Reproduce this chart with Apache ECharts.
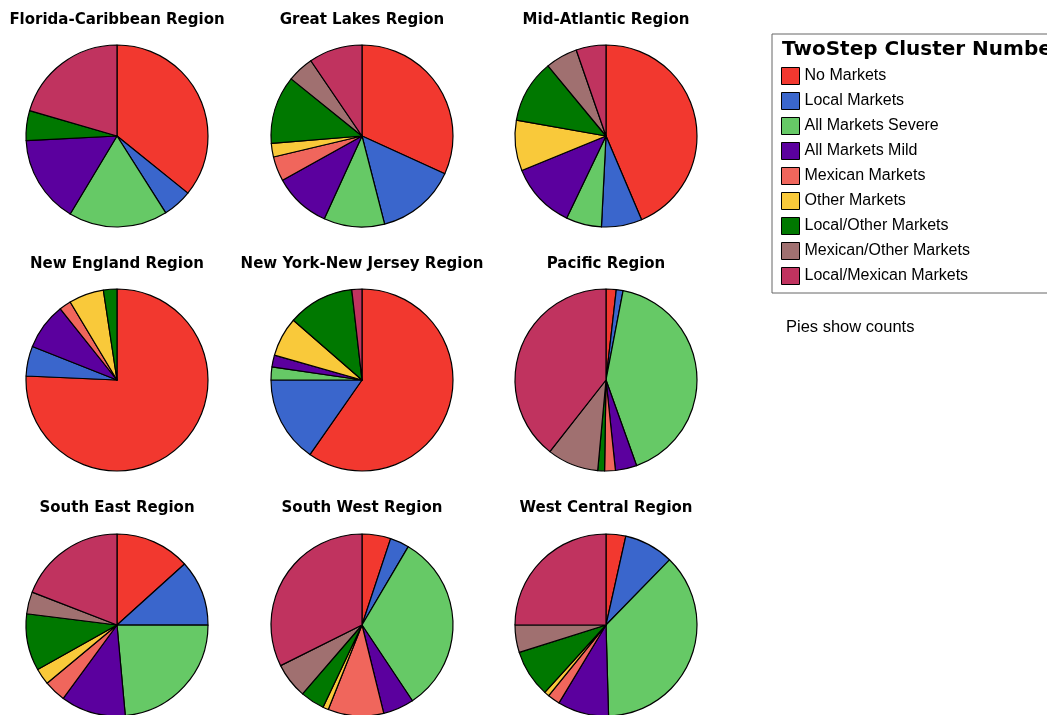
<!DOCTYPE html>
<html>
<head>
<meta charset="utf-8">
<script src="https://cdn.jsdelivr.net/npm/echarts@6/dist/echarts.min.js"></script>
<style>
html,body{margin:0;padding:0;background:#fff;}
#chart{width:1047px;height:715px;}
</style>
</head>
<body>
<div id="chart"></div>
<script>
// Cluster categories (legend order)
const categories = ["No Markets","Local Markets","All Markets Severe","All Markets Mild","Mexican Markets","Other Markets","Local/Other Markets","Mexican/Other Markets","Local/Mexican Markets"];
const colors = ["#F2382F","#3A66CC","#66C966","#5B009E","#F0665C","#F9C93A","#007800","#A07070","#C0335F"];

// Regions (panel titles)
const regions = ["Florida-Caribbean Region","Great Lakes Region","Mid-Atlantic Region","New England Region","New York-New Jersey Region","Pacific Region","South East Region","South West Region","West Central Region"];

// Relative counts per region, in category order
const floridaCaribbean = [35.8, 5.2, 17.6, 15.6, 0, 0, 5.3, 0, 20.5];
const greatLakes       = [31.8, 14.2, 10.8, 10.1, 4.4, 2.4, 12.1, 4.7, 9.5];
const midAtlantic      = [43.6, 7.2, 6.3, 11.7, 0, 9.0, 11.2, 5.7, 5.3];
const newEngland       = [75.7, 5.3, 0, 8.3, 2.1, 6.2, 2.4, 0, 0];
const newYorkNewJersey = [59.7, 15.3, 2.3, 2.1, 0, 7.0, 11.8, 0, 1.8];
const pacific          = [1.8, 1.2, 41.4, 3.8, 1.9, 0, 1.2, 9.1, 39.3];
const southEast        = [13.3, 11.7, 23.5, 11.5, 3.9, 2.9, 10.1, 3.9, 19.1];
const southWest        = [5.1, 3.4, 32.2, 5.5, 9.9, 1.0, 4.3, 6.3, 32.4];
const westCentral      = [3.5, 8.8, 37.3, 9.1, 2.2, 0.9, 8.4, 4.9, 25.0];

const legendTitle = "TwoStep Cluster Number";
const footnote = "Pies show counts";

const regionValues = [floridaCaribbean, greatLakes, midAtlantic, newEngland, newYorkNewJersey, pacific, southEast, southWest, westCentral];

// layout
const colX = [117, 362, 606];
const rowY = [136, 380, 625];
const titleY = [20, 264, 508];
const R = 91;

const series = [];
const graphics = [];
regionValues.forEach((vals, i) => {
  const c = i % 3, r = Math.floor(i / 3);
  const data = [];
  vals.forEach((v, k) => {
    if (v > 0) data.push({name: categories[k], value: v, itemStyle: {color: colors[k]}});
  });
  series.push({
    type: 'pie',
    name: regions[i],
    center: [colX[c], rowY[r]],
    radius: R,
    startAngle: 90,
    clockwise: true,
    avoidLabelOverlap: false,
    label: {show: false},
    labelLine: {show: false},
    emphasis: {disabled: true},
    itemStyle: {borderColor: '#000', borderWidth: 1.2},
    data: data
  });
  graphics.push({
    type: 'text',
    x: colX[c], y: titleY[r],
    style: {text: regions[i], font: 'bold 15px "DejaVu Sans"', fill: '#000', align: 'center', verticalAlign: 'middle'}
  });
});

graphics.push({
  type: 'text', x: 782, y: 50,
  style: {text: legendTitle, font: 'bold 20px "DejaVu Sans"', fill: '#000', align: 'left', verticalAlign: 'middle'}
});
graphics.push({
  type: 'text', x: 786, y: 327,
  style: {text: footnote, font: '16.5px "Liberation Sans", Arial', fill: '#000', align: 'left', verticalAlign: 'middle'}
});

const chart = echarts.init(document.getElementById('chart'), null, {renderer: 'canvas'});
chart.setOption({
  animation: false,
  backgroundColor: '#fff',
  color: colors,
  legend: {
    data: categories,
    orient: 'vertical',
    left: 772,
    top: 34,
    padding: [33, 120, 8, 9],
    itemWidth: 18,
    itemHeight: 17,
    itemGap: 7,
    icon: 'rect',
    selectedMode: false,
    borderColor: '#666',
    borderWidth: 1,
    itemStyle: {borderColor: '#000', borderWidth: 1},
    textStyle: {fontFamily: '"Liberation Sans", Arial', fontSize: 16, color: '#000', lineHeight: 17, padding: [0,0,0,0]}
  },
  tooltip: {show: false},
  graphic: graphics,
  series: series
});
</script>
</body>
</html>
